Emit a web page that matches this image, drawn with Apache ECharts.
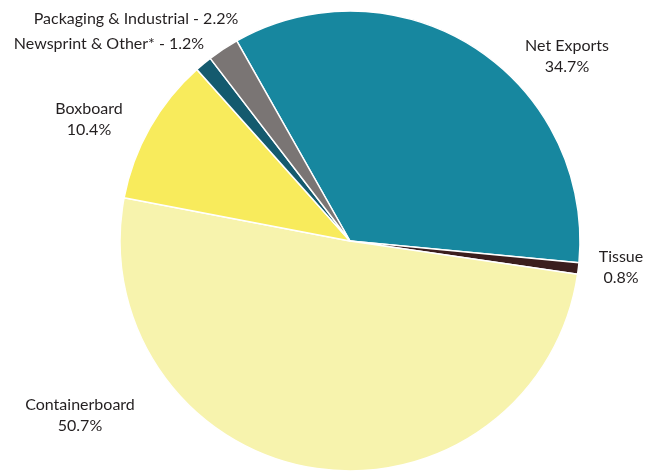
<!DOCTYPE html>
<html>
<head>
<meta charset="utf-8">
<script src="https://cdn.jsdelivr.net/npm/echarts@6/dist/echarts.min.js"></script>
<style>
  html, body { margin: 0; padding: 0; background: #fff; }
  #chart { width: 657px; height: 472px; }
</style>
</head>
<body>
<div id="chart"></div>
<script>
// categories in clockwise order starting at the top
const categories = ['Net Exports', 'Tissue', 'Containerboard', 'Boxboard', 'Newsprint & Other*', 'Packaging & Industrial']
const shares = [34.7, 0.8, 50.7, 10.4, 1.2, 2.2]
const colors = ['#17879f', '#3b1e1e', '#f7f3ad', '#f8eb5c', '#145a6e', '#7a7574']

// label anchors (px) and whether the label sits on one line
const labelPos = [[567, 56], [621, 267], [80, 415], [89, 119], [109, 44], [136, 19]]
const oneLine = [false, false, false, false, true, true]

const chart = echarts.init(document.getElementById('chart'))

const option = {
  animation: false,
  backgroundColor: '#fff',
  series: [{
    type: 'pie',
    center: [350, 241],
    radius: 230,
    startAngle: 119.5,
    clockwise: true,
    avoidLabelOverlap: false,
    itemStyle: { borderColor: '#fff', borderWidth: 1.5 },
    label: {
      show: true,
      position: 'outside',
      color: '#231f20',
      fontFamily: 'Lato',
      fontSize: 16,
      lineHeight: 21,
      align: 'center',
      formatter: p => oneLine[p.dataIndex]
        ? p.name + ' - ' + p.value.toFixed(1) + '%'
        : p.name + '\n' + p.value.toFixed(1) + '%'
    },
    labelLine: { show: false },
    labelLayout: p => ({
      x: labelPos[p.dataIndex][0],
      y: labelPos[p.dataIndex][1],
      align: 'center',
      verticalAlign: 'middle'
    }),
    emphasis: { disabled: true },
    data: categories.map((c, i) => ({
      name: c,
      value: shares[i],
      itemStyle: { color: colors[i] }
    }))
  }]
}

chart.setOption(option)
</script>
</body>
</html>
